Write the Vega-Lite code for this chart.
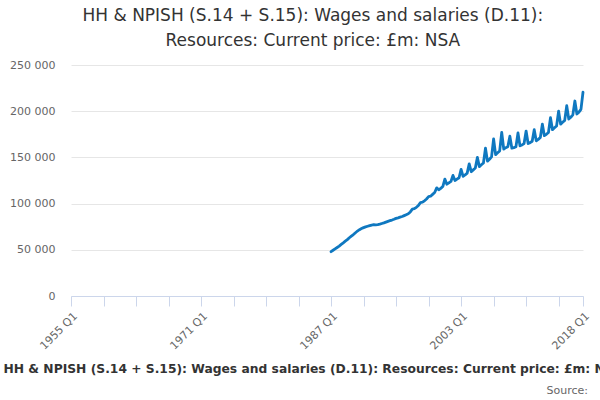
{
  "$schema": "https://vega.github.io/schema/vega-lite/v6.json",
  "padding": {"left": 3, "top": 7, "right": 0, "bottom": 0},
  "background": "white",
  "config": {
    "font": "DejaVu Sans",
    "view": {"stroke": null},
    "concat": {"spacing": 0}
  },
  "title": {
    "text": ["HH & NPISH (S.14 + S.15): Wages and salaries (D.11):", "Resources: Current price: £m: NSA"],
    "anchor": "middle",
    "fontSize": 17,
    "fontWeight": "normal",
    "color": "#333333",
    "lineHeight": 25,
    "offset": 9
  },
  "datasets": {
    "series": [
      {"date": "1987-01-01T00:00:00", "value": 48000},
      {"date": "1987-04-01T00:00:00", "value": 49500},
      {"date": "1987-07-01T00:00:00", "value": 51000},
      {"date": "1987-10-01T00:00:00", "value": 52500},
      {"date": "1988-01-01T00:00:00", "value": 54000},
      {"date": "1988-04-01T00:00:00", "value": 55800},
      {"date": "1988-07-01T00:00:00", "value": 57500},
      {"date": "1988-10-01T00:00:00", "value": 59300},
      {"date": "1989-01-01T00:00:00", "value": 61000},
      {"date": "1989-04-01T00:00:00", "value": 63000},
      {"date": "1989-07-01T00:00:00", "value": 64800},
      {"date": "1989-10-01T00:00:00", "value": 66500},
      {"date": "1990-01-01T00:00:00", "value": 68500},
      {"date": "1990-04-01T00:00:00", "value": 70300},
      {"date": "1990-07-01T00:00:00", "value": 71800},
      {"date": "1990-10-01T00:00:00", "value": 73000},
      {"date": "1991-01-01T00:00:00", "value": 74000},
      {"date": "1991-04-01T00:00:00", "value": 74800},
      {"date": "1991-07-01T00:00:00", "value": 75500},
      {"date": "1991-10-01T00:00:00", "value": 76200},
      {"date": "1992-01-01T00:00:00", "value": 76800},
      {"date": "1992-04-01T00:00:00", "value": 77200},
      {"date": "1992-07-01T00:00:00", "value": 77000},
      {"date": "1992-10-01T00:00:00", "value": 77300},
      {"date": "1993-01-01T00:00:00", "value": 77800},
      {"date": "1993-04-01T00:00:00", "value": 78500},
      {"date": "1993-07-01T00:00:00", "value": 79200},
      {"date": "1993-10-01T00:00:00", "value": 80000},
      {"date": "1994-01-01T00:00:00", "value": 80800},
      {"date": "1994-04-01T00:00:00", "value": 81500},
      {"date": "1994-07-01T00:00:00", "value": 82200},
      {"date": "1994-10-01T00:00:00", "value": 83000},
      {"date": "1995-01-01T00:00:00", "value": 84000},
      {"date": "1995-04-01T00:00:00", "value": 84600},
      {"date": "1995-07-01T00:00:00", "value": 85300},
      {"date": "1995-10-01T00:00:00", "value": 86000},
      {"date": "1996-01-01T00:00:00", "value": 87000},
      {"date": "1996-04-01T00:00:00", "value": 88000},
      {"date": "1996-07-01T00:00:00", "value": 89000},
      {"date": "1996-10-01T00:00:00", "value": 91000},
      {"date": "1997-01-01T00:00:00", "value": 94000},
      {"date": "1997-04-01T00:00:00", "value": 94500},
      {"date": "1997-07-01T00:00:00", "value": 96000},
      {"date": "1997-10-01T00:00:00", "value": 98000},
      {"date": "1998-01-01T00:00:00", "value": 101000},
      {"date": "1998-04-01T00:00:00", "value": 101500},
      {"date": "1998-07-01T00:00:00", "value": 103000},
      {"date": "1998-10-01T00:00:00", "value": 105000},
      {"date": "1999-01-01T00:00:00", "value": 107500},
      {"date": "1999-04-01T00:00:00", "value": 108000},
      {"date": "1999-07-01T00:00:00", "value": 110000},
      {"date": "1999-10-01T00:00:00", "value": 112000},
      {"date": "2000-01-01T00:00:00", "value": 117000},
      {"date": "2000-04-01T00:00:00", "value": 115000},
      {"date": "2000-07-01T00:00:00", "value": 116500},
      {"date": "2000-10-01T00:00:00", "value": 118500},
      {"date": "2001-01-01T00:00:00", "value": 126500},
      {"date": "2001-04-01T00:00:00", "value": 121000},
      {"date": "2001-07-01T00:00:00", "value": 122500},
      {"date": "2001-10-01T00:00:00", "value": 124000},
      {"date": "2002-01-01T00:00:00", "value": 130500},
      {"date": "2002-04-01T00:00:00", "value": 125000},
      {"date": "2002-07-01T00:00:00", "value": 126500},
      {"date": "2002-10-01T00:00:00", "value": 128000},
      {"date": "2003-01-01T00:00:00", "value": 137000},
      {"date": "2003-04-01T00:00:00", "value": 129500},
      {"date": "2003-07-01T00:00:00", "value": 131000},
      {"date": "2003-10-01T00:00:00", "value": 133000},
      {"date": "2004-01-01T00:00:00", "value": 143000},
      {"date": "2004-04-01T00:00:00", "value": 134500},
      {"date": "2004-07-01T00:00:00", "value": 136500},
      {"date": "2004-10-01T00:00:00", "value": 138500},
      {"date": "2005-01-01T00:00:00", "value": 150000},
      {"date": "2005-04-01T00:00:00", "value": 140000},
      {"date": "2005-07-01T00:00:00", "value": 142000},
      {"date": "2005-10-01T00:00:00", "value": 144000},
      {"date": "2006-01-01T00:00:00", "value": 160000},
      {"date": "2006-04-01T00:00:00", "value": 146000},
      {"date": "2006-07-01T00:00:00", "value": 148000},
      {"date": "2006-10-01T00:00:00", "value": 150500},
      {"date": "2007-01-01T00:00:00", "value": 170000},
      {"date": "2007-04-01T00:00:00", "value": 153000},
      {"date": "2007-07-01T00:00:00", "value": 155000},
      {"date": "2007-10-01T00:00:00", "value": 157000},
      {"date": "2008-01-01T00:00:00", "value": 177000},
      {"date": "2008-04-01T00:00:00", "value": 159000},
      {"date": "2008-07-01T00:00:00", "value": 160500},
      {"date": "2008-10-01T00:00:00", "value": 161500},
      {"date": "2009-01-01T00:00:00", "value": 173000},
      {"date": "2009-04-01T00:00:00", "value": 160000},
      {"date": "2009-07-01T00:00:00", "value": 160500},
      {"date": "2009-10-01T00:00:00", "value": 161500},
      {"date": "2010-01-01T00:00:00", "value": 176500},
      {"date": "2010-04-01T00:00:00", "value": 162500},
      {"date": "2010-07-01T00:00:00", "value": 163500},
      {"date": "2010-10-01T00:00:00", "value": 165000},
      {"date": "2011-01-01T00:00:00", "value": 178500},
      {"date": "2011-04-01T00:00:00", "value": 165000},
      {"date": "2011-07-01T00:00:00", "value": 166000},
      {"date": "2011-10-01T00:00:00", "value": 167500},
      {"date": "2012-01-01T00:00:00", "value": 180000},
      {"date": "2012-04-01T00:00:00", "value": 168000},
      {"date": "2012-07-01T00:00:00", "value": 169500},
      {"date": "2012-10-01T00:00:00", "value": 171500},
      {"date": "2013-01-01T00:00:00", "value": 186000},
      {"date": "2013-04-01T00:00:00", "value": 173500},
      {"date": "2013-07-01T00:00:00", "value": 175000},
      {"date": "2013-10-01T00:00:00", "value": 177000},
      {"date": "2014-01-01T00:00:00", "value": 193000},
      {"date": "2014-04-01T00:00:00", "value": 180000},
      {"date": "2014-07-01T00:00:00", "value": 182000},
      {"date": "2014-10-01T00:00:00", "value": 184000},
      {"date": "2015-01-01T00:00:00", "value": 200000},
      {"date": "2015-04-01T00:00:00", "value": 186000},
      {"date": "2015-07-01T00:00:00", "value": 188000},
      {"date": "2015-10-01T00:00:00", "value": 190000},
      {"date": "2016-01-01T00:00:00", "value": 206000},
      {"date": "2016-04-01T00:00:00", "value": 191500},
      {"date": "2016-07-01T00:00:00", "value": 193500},
      {"date": "2016-10-01T00:00:00", "value": 196000},
      {"date": "2017-01-01T00:00:00", "value": 211000},
      {"date": "2017-04-01T00:00:00", "value": 197000},
      {"date": "2017-07-01T00:00:00", "value": 199000},
      {"date": "2017-10-01T00:00:00", "value": 202000},
      {"date": "2018-01-01T00:00:00", "value": 220500}
    ]
  },
  "vconcat": [
    {
      "width": 512,
      "height": 231,
      "data": {"name": "series"},
      "title": {
        "text": "Source:",
        "orient": "bottom",
        "anchor": "end",
        "frame": "group",
        "fontSize": 11,
        "fontWeight": "normal",
        "color": "#666666",
        "offset": 11,
        "dx": 5
      },
      "mark": {"type": "line", "color": "#0f78c0", "strokeWidth": 2.8, "strokeJoin": "round", "strokeCap": "round"},
      "encoding": {
        "x": {
          "field": "date",
          "type": "temporal",
          "scale": {"domain": [{"year": 1955, "month": 1, "date": 1}, {"year": 2018, "month": 1, "date": 1}], "nice": false, "padding": 0},
          "axis": {
            "title": "HH & NPISH (S.14 + S.15): Wages and salaries (D.11): Resources: Current price: £m: NSA",
            "titleFontSize": 12.3,
            "titleFontWeight": "bold",
            "titleColor": "#333333",
            "titleAnchor": "start",
            "titleAlign": "left",
            "titleBaseline": "alphabetic",
            "titleX": -68,
            "titleY": 76,
            "values": [
              {"year": 1955, "month": 1, "date": 1}, {"year": 1959, "month": 1, "date": 1},
              {"year": 1963, "month": 1, "date": 1}, {"year": 1967, "month": 1, "date": 1},
              {"year": 1971, "month": 1, "date": 1}, {"year": 1975, "month": 1, "date": 1},
              {"year": 1979, "month": 1, "date": 1}, {"year": 1983, "month": 1, "date": 1},
              {"year": 1987, "month": 1, "date": 1}, {"year": 1991, "month": 1, "date": 1},
              {"year": 1995, "month": 1, "date": 1}, {"year": 1999, "month": 1, "date": 1},
              {"year": 2003, "month": 1, "date": 1}, {"year": 2007, "month": 1, "date": 1},
              {"year": 2011, "month": 1, "date": 1}, {"year": 2015, "month": 1, "date": 1},
              {"year": 2018, "month": 1, "date": 1}
            ],
            "labelExpr": "indexof([1955, 1971, 1987, 2003, 2018], year(datum.value)) >= 0 ? timeFormat(datum.value, '%Y Q%q') : ''",
            "labelAngle": -45,
            "labelFontSize": 11,
            "labelColor": "#666666",
            "labelPadding": 4,
            "labelOverlap": false,
            "labelFlush": false,
            "labelBound": false,
            "grid": false,
            "domainColor": "#ccd6eb",
            "tickColor": "#ccd6eb",
            "tickSize": 10
          }
        },
        "y": {
          "field": "value",
          "type": "quantitative",
          "scale": {"domain": [0, 250000], "nice": false},
          "axis": {
            "title": null,
            "values": [0, 50000, 100000, 150000, 200000, 250000],
            "labelExpr": "replace(format(datum.value, ','), ',', ' ')",
            "labelFontSize": 11,
            "labelColor": "#666666",
            "labelPadding": 16,
            "ticks": false,
            "domain": false,
            "gridColor": "#e6e6e6",
            "gridWidth": 1
          }
        }
      }
    }
  ]
}
